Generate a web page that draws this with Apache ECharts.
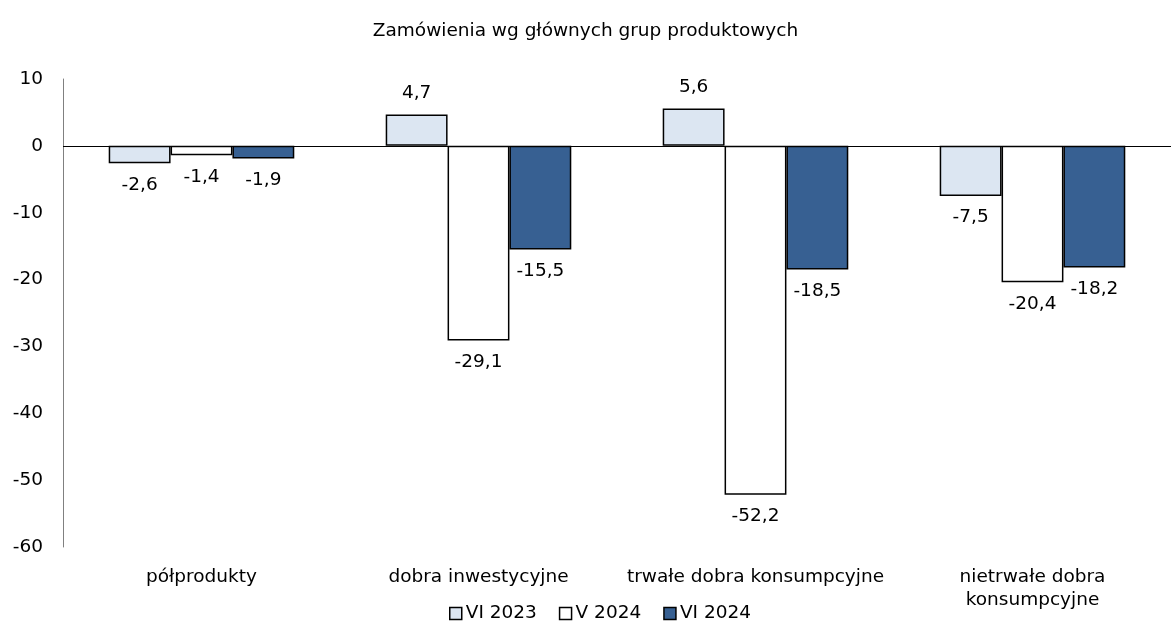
<!DOCTYPE html>
<html><head><meta charset="utf-8">
<script src="https://cdn.jsdelivr.net/npm/echarts@6/dist/echarts.min.js"></script>
<style>html,body{margin:0;padding:0;background:#fff}#c{width:1171px;height:628px}</style>
</head><body><div id="c"></div>
<script>
const categories = ['półprodukty', 'dobra inwestycyjne', 'trwałe dobra konsumpcyjne', 'nietrwałe dobra\nkonsumpcyjne'];
const seriesNames = ['VI 2023', 'V 2024', 'VI 2024'];
const vi2023 = [-2.6, 4.7, 5.6, -7.5];
const v2024 = [-1.4, -29.1, -52.2, -20.4];
const vi2024 = [-1.9, -15.5, -18.5, -18.2];
const colors = ['#dce6f2', '#ffffff', '#376092'];
const FONT = 'DejaVu Sans';
const FS = 18.5;
const chart = echarts.init(document.getElementById('c'));
function mk(name, data, color, idx) {
  const s = {
    name: name, type: 'bar', data: data.map(v => ({
      value: v,
      label: { position: v >= 0 ? 'top' : 'bottom' }
    })),
    barGap: '0%', barCategoryGap: '33%',
    itemStyle: { color: color, borderColor: '#000', borderWidth: 1.5 },
    label: { show: true, distance: 12, fontFamily: FONT, fontSize: FS, color: '#000',
      formatter: p => String(p.value).replace('.', ',') }
  };
  if (idx === 0) {
    s.markLine = { silent: true, symbol: 'none', label: { show: false },
      lineStyle: { color: '#000', width: 1, type: 'solid' }, data: [{ yAxis: 0 }] };
  }
  return s;
}
chart.setOption({
  animation: false,
  title: { text: 'Zamówienia wg głównych grup produktowych', left: 'center', top: 17,
    textStyle: { fontFamily: FONT, fontSize: FS, fontWeight: 'normal', color: '#000' } },
  legend: { top: 604, left: 449, padding: 0, itemWidth: 12, itemHeight: 12, itemGap: 22,
    textStyle: { fontFamily: FONT, fontSize: FS, color: '#000', padding: [0, 0, 0, -1] },
    data: seriesNames.map((n, i) => ({ name: n, icon: 'rect',
      itemStyle: { color: colors[i], borderColor: '#000', borderWidth: 1.5 } })) },
  grid: { left: 63, right: -10, top: 79, bottom: 81 },
  xAxis: { type: 'category', data: categories,
    axisLine: { show: false, onZero: false }, axisTick: { show: false },
    axisLabel: { margin: 19, fontFamily: FONT, fontSize: FS, color: '#000', lineHeight: 23, interval: 0 } },
  yAxis: { type: 'value', min: -60, max: 10, interval: 10,
    axisLine: { show: true, lineStyle: { color: '#808080', width: 1 } },
    axisTick: { show: false }, splitLine: { show: false },
    axisLabel: { margin: 20, fontFamily: FONT, fontSize: FS, color: '#000' } },
  series: [mk(seriesNames[0], vi2023, colors[0], 0), mk(seriesNames[1], v2024, colors[1], 1), mk(seriesNames[2], vi2024, colors[2], 2)]
});
</script></body></html>
